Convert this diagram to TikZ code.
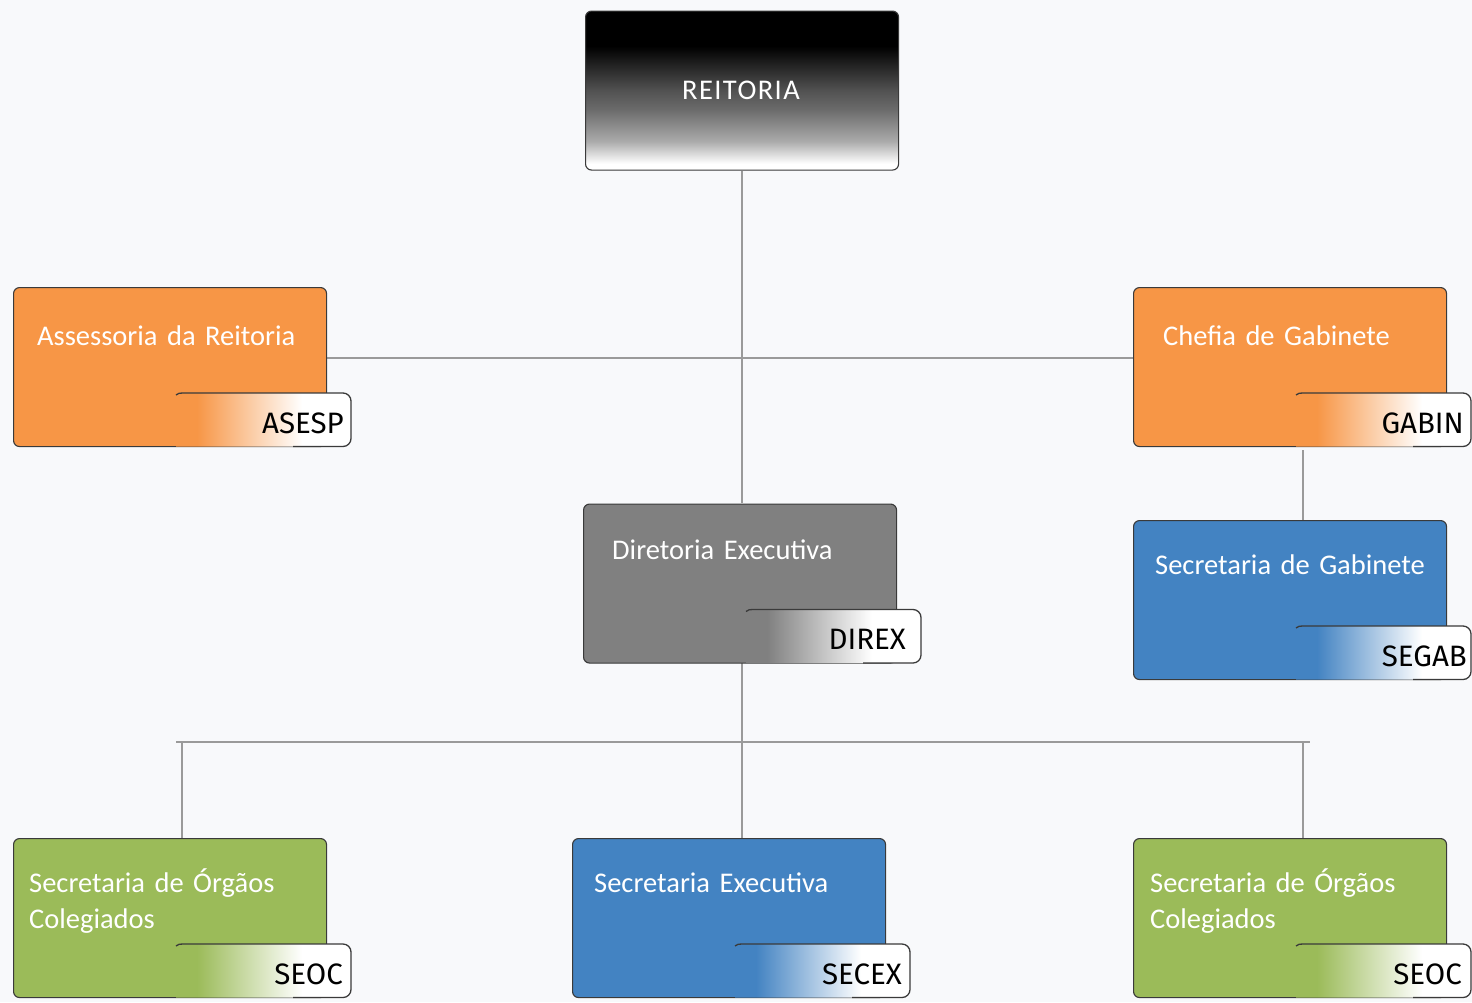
\documentclass[tikz,border=0pt]{standalone}
\usepackage{fontspec}
\setmainfont{Carlito}
\newfontfamily\tagfont{Fira Sans}
\usetikzlibrary{calc}
\definecolor{bgc}{HTML}{F8F9FB}
\definecolor{orangec}{HTML}{F79646}
\definecolor{greenc}{HTML}{9BBB59}
\definecolor{bluec}{HTML}{4383C2}
\definecolor{grayc}{HTML}{808080}
\definecolor{linec}{HTML}{9A9A9A}
\definecolor{borderc}{HTML}{3A3A3A}
\colorlet{tabc}{orangec}
\pgfdeclarehorizontalshading[tabc]{tabshade}{100bp}{color(0bp)=(tabc); color(31bp)=(tabc); color(61bp)=(white); color(100bp)=(white)}
\pgfdeclareverticalshading{reitshade}{100bp}{color(0bp)=(white); color(27bp)=(white); color(34bp)=(black!33); color(44bp)=(black!58); color(50bp)=(black!68); color(64bp)=(black); color(100bp)=(black)}
\tikzset{
  unitbox/.style={draw=borderc, line width=1.1pt, rounded corners=6pt, minimum width=313pt, minimum height=159pt, anchor=north west, inner sep=0pt},
  titletext/.style={text=white, font=\fontsize{28.5}{36}\selectfont, inner sep=0pt, align=left},
  tagtext/.style={text=black, font=\tagfont\fontsize{29.5}{34}\selectfont, inner sep=0pt},
  tabline/.style={draw=borderc, line width=1.3pt},
  conn/.style={draw=linec, line width=1.8pt}
}
\newcommand\orgunit[9]{%
  \node[unitbox, fill=#4] (#1) at (#2,#3) {};
  \node[titletext, anchor=base west, text width=310pt] (#1-t) at (#2+#6,#3+#7) {#5};
  \colorlet{tabc}{#4}%
  \path[shading=tabshade] (#2+163,#3+159.5) -- (#2+163,#3+106) [rounded corners=8pt] -- (#2+338,#3+106) -- (#2+338,#3+159.5) [sharp corners] -- cycle;
  \draw[tabline] (#2+163,#3+108) .. controls (#2+165,#3+106) .. (#2+176,#3+106) [rounded corners=8pt] -- (#2+338,#3+106) -- (#2+338,#3+159.5) [sharp corners] -- (#2+280,#3+159.5);
  \node[tagtext, anchor=base east] (#1-g) at (#2+338-#9,#3+146) {#8};
}
\begin{document}
\begin{tikzpicture}[x=1pt,y=-1pt]
\useasboundingbox[fill=bgc] (0,0) rectangle (1472,1002);
\coordinate (j1) at (742,358);
\coordinate (j2) at (742,742);
\coordinate (hl) at (176,742);
\coordinate (hr) at (1310,742);
\coordinate (vl) at (182,742);
\coordinate (vr) at (1303,742);
\coordinate (vg) at (1303,450);
% top box
\node[unitbox, shading=reitshade] (reit) at (585,10.5) {};
\node[text=white, font=\fontsize{28.5}{32}\selectfont\addfontfeature{LetterSpace=5}, anchor=base, inner sep=0pt] (reit-t) at (741,99) {REITORIA};
% connectors (behind the units)
\draw[conn] (j1 |- reit.south) -- (j1 |- 0,503);
\draw[conn] (326,358) -- (1134,358);
\draw[conn] (vg) -- (1303,520);
\draw[conn] (742,663) -- (j2);
\draw[conn] (hl) -- (hr);
\draw[conn] (vl) -- (182,838);
\draw[conn] (vr) -- (1303,838);
\draw[conn] (j2) -- (742,838);
% units
\orgunit{ases}{13}{287}{orangec}{Assessoria da Reitoria}{24}{58}{ASESP}{7}
\orgunit{chef}{1133}{287}{orangec}{Chefia de Gabinete}{30}{58}{GABIN}{7}
\orgunit{dir}{583}{503.5}{grayc}{Diretoria Executiva}{29}{56}{DIREX}{15}
\orgunit{sgab}{1133}{520}{bluec}{Secretaria de Gabinete}{22}{54}{SEGAB}{4}
\orgunit{seol}{13}{838}{greenc}{Secretaria de Órgãos\\Colegiados}{16}{54}{SEOC}{8}
\orgunit{sex}{572}{838}{bluec}{Secretaria Executiva}{22}{54}{SECEX}{8}
\orgunit{seor}{1133}{838}{greenc}{Secretaria de Órgãos\\Colegiados}{17}{54}{SEOC}{9}
\end{tikzpicture}
\end{document}
